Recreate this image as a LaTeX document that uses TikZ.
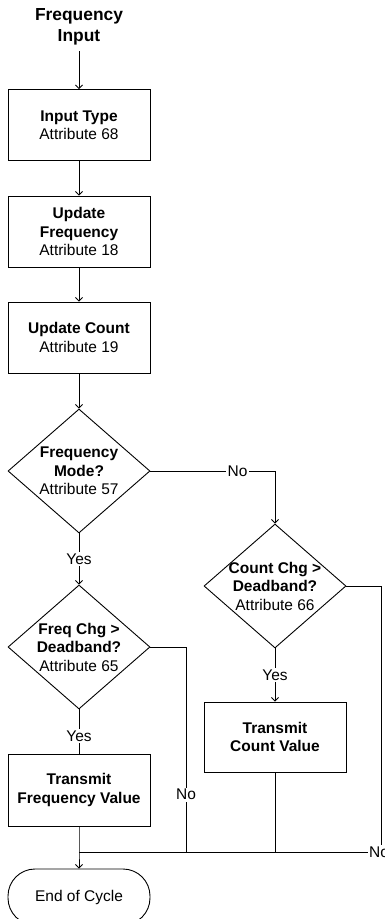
\documentclass[tikz,border=0pt]{standalone}
\usepackage{fontspec}
\setmainfont{Liberation Sans}
\usetikzlibrary{shapes.geometric,arrows.meta}
\begin{document}
\begin{tikzpicture}[x=1pt,y=-1pt,
  every node/.style={font=\fontsize{15.5}{18.5}\selectfont},
  line/.style={line width=0.9pt},
  arr/.style={line, -{Straight Barb[length=3.5pt,width=7pt]}},
  procbox/.style={draw, line width=0.9pt, minimum width=142pt, minimum height=71pt, inner sep=0pt},
  dia/.style={draw, diamond, line width=0.9pt, minimum width=142pt, minimum height=124pt, inner sep=0pt},
  txt/.style={align=center, inner sep=0pt},
  lbl/.style={fill=white, inner sep=1.5pt},
  term/.style={draw, line width=0.9pt, rounded corners=27pt, minimum width=142pt, minimum height=56pt, inner sep=0pt}
]
\useasboundingbox (0,0) rectangle (385,919);
\clip (0,0) rectangle (385,919);

\node[txt, font=\fontsize{17.4}{21}\selectfont\bfseries, inner sep=6pt] (title) at (79,27) {Frequency\\Input};

\node[procbox] (b1) at (79,125) {};
\node[txt] at (b1) {\textbf{Input Type}\\Attribute 68};

\node[procbox] (b2) at (79,231.5) {};
\node[txt] at (b2) {\textbf{Update}\\\textbf{Frequency}\\Attribute 18};

\node[procbox] (b3) at (79,337.5) {};
\node[txt] at (b3) {\textbf{Update Count}\\Attribute 19};

\node[dia] (d1) at (79,471) {};
\node[txt] at (d1) {\textbf{Frequency}\\\textbf{Mode?}\\Attribute 57};

\node[dia] (d2) at (275,586) {};
\node[txt] at (d2) {\textbf{Count Chg >}\\\textbf{Deadband?}\\Attribute 66};

\node[dia] (d3) at (79,647) {};
\node[txt] at (d3) {\textbf{Freq Chg >}\\\textbf{Deadband?}\\Attribute 65};

\node[procbox, minimum height=72pt] (b4) at (79,790) {};
\node[txt] at (b4) {\textbf{Transmit}\\\textbf{Frequency Value}};

\node[procbox, minimum height=70pt] (b5) at (275,737) {};
\node[txt] at (b5) {\textbf{Transmit}\\\textbf{Count Value}};

\node[term] (end) at (79,897) {};
\node[txt] at (end) {End of Cycle};

\coordinate (m) at (79,852);
\coordinate (c2) at (381,852);
\coordinate (c3) at (186,852);
\coordinate (c5) at (275,852);

\draw[arr] (title.south) -- (b1.north);
\draw[arr] (b1.south) -- (b2.north);
\draw[arr] (b2.south) -- (b3.north);
\draw[arr] (b3.south) -- (d1.north);
\draw[arr] (d1.east) -| node[lbl, pos=0.35] {No} (d2.north);
\draw[arr] (d1.south) -- node[lbl] {Yes} (d3.north);
\draw[arr] (d2.south) -- node[lbl] {Yes} (b5.north);
\draw[line] (d3.south) -- node[lbl, pos=0.6] {Yes} (b4.north);
\draw[line] (d3.east) -| node[lbl, pos=0.86] {No} (c3);
\draw[line] (b5.south) -- (c5);
\draw[line] (d2.east) -| (c2) -- (m);
\node[lbl] at ([xshift=-2pt]c2) {No};
\draw[arr] (b4.south) -- (m) -- (end.north);
\end{tikzpicture}
\end{document}
